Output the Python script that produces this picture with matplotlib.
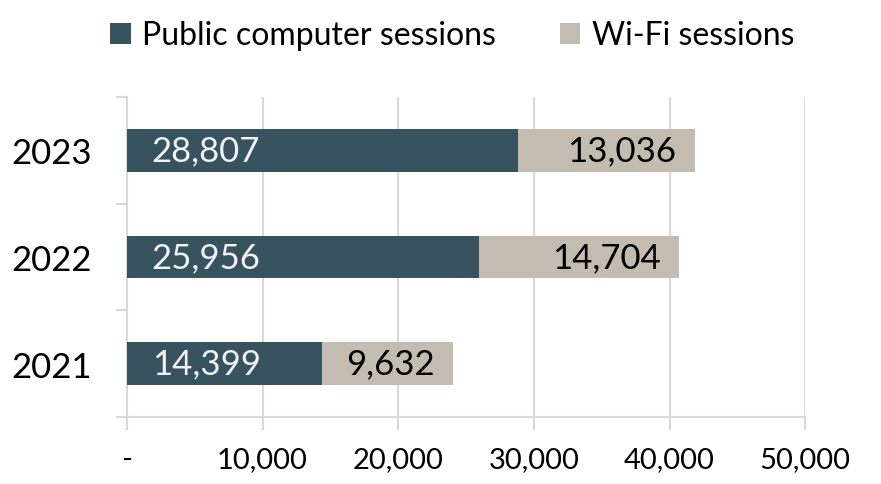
import matplotlib.pyplot as plt
from matplotlib.ticker import FuncFormatter

years = ["2021", "2022", "2023"]
public_sessions = [14399, 25956, 28807]
wifi_sessions = [9632, 14704, 13036]
x_ticks = [0, 10000, 20000, 30000, 40000, 50000]

dark = "#37535F"
light = "#C4BCB0"
grid = "#D9D9D9"

plt.rcParams["font.family"] = ["Lato", "DejaVu Sans"]

fig = plt.figure(figsize=(8.81, 4.85), dpi=100)
ax = fig.add_axes([0.144, 0.138, 0.77, 0.66])

pos = list(range(len(years)))
b1 = ax.barh(pos, public_sessions, height=0.4, color=dark, label="Public computer sessions", zorder=3)
b2 = ax.barh(pos, wifi_sessions, left=public_sessions, height=0.4, color=light,
             label="Wi-Fi sessions", zorder=3)

for i in pos:
    ax.annotate(f"{public_sessions[i]:,}", (0, i), xytext=(18, 0), textcoords="offset points",
                ha="left", va="center", color="#F2F2F2", fontsize=25, zorder=4)
    total = public_sessions[i] + wifi_sessions[i]
    ax.annotate(f"{wifi_sessions[i]:,}", (total, i), xytext=(-13, 0), textcoords="offset points",
                ha="right", va="center", color="black", fontsize=25, zorder=4)

ax.set_xlim(0, 50000)
ax.set_ylim(-0.5, 2.5)
ax.set_xticks(x_ticks)
ax.xaxis.set_major_formatter(FuncFormatter(lambda v, p: "-" if v == 0 else f"{int(v):,}"))
ax.grid(axis="x", color=grid, linewidth=1.5, zorder=0)
ax.tick_params(axis="x", length=9, width=1.5, color=grid, labelsize=21, pad=12)

ax.set_yticks(pos)
ax.set_yticklabels(years)
ax.set_yticks([-0.5, 0.5, 1.5, 2.5], minor=True)
ax.tick_params(axis="y", which="major", length=0, labelsize=25, pad=25)
ax.tick_params(axis="y", which="minor", length=8, width=1.5, color=grid)

for s in ["top", "right"]:
    ax.spines[s].set_visible(False)
ax.spines["left"].set_color(grid)
ax.spines["left"].set_linewidth(1.5)
ax.spines["bottom"].set_color(grid)
ax.spines["bottom"].set_linewidth(1.5)

fig.legend(handles=[b1, b2], loc="upper center", bbox_to_anchor=(0.513, 1.015), ncol=2,
           frameon=False, fontsize=23, handlelength=0.65, handleheight=0.65,
           handletextpad=0.35, columnspacing=2.0)

fig.savefig("out.png", dpi=100)
